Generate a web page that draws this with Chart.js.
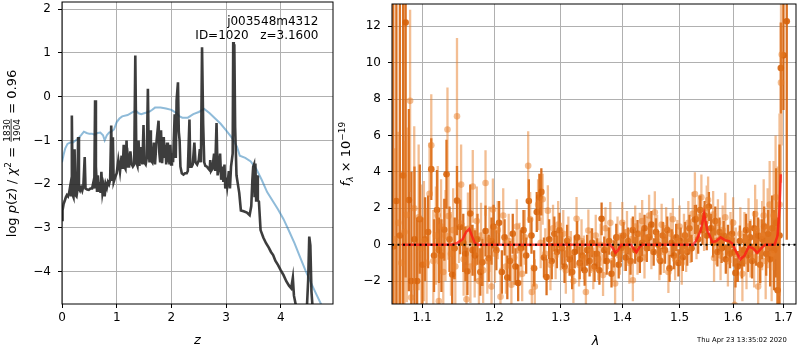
<!DOCTYPE html>
<html>
<head>
<meta charset="utf-8">
<script src="https://cdn.jsdelivr.net/npm/chart.js@4.4.1/dist/chart.umd.min.js"></script>
<style>
  html, body { margin: 0; padding: 0; background: #fff; overflow: hidden; }
  #wrap { position: relative; width: 800px; height: 350px; }
  #pz { position: absolute; left: 0; top: 0; }
  #spec { position: absolute; left: 335px; top: 0; }
</style>
</head>
<body>
<div id="wrap">
  <canvas id="pz" width="340" height="350"></canvas>
  <canvas id="spec" width="465" height="350"></canvas>
</div>
<script>
// ---- left panel: log p(z) ----
const zTicks = [0, 1, 2, 3, 4];
const logpTicks = [-4, -3, -2, -1, 0, 1, 2];

const zDark = [
  0.000,0.010,0.030,0.050,0.070,0.090,0.110,0.130,0.150,0.165,
  0.180,0.195,0.210,0.230,0.245,0.265,0.280,0.295,0.310,0.330,
  0.350,0.370,0.390,0.415,0.430,0.460,0.490,0.520,0.550,0.575,
  0.590,0.605,0.620,0.640,0.655,0.670,0.690,0.705,0.720,0.740,
  0.760,0.780,0.800,0.820,0.840,0.860,0.880,0.900,0.915,0.930,
  0.945,0.970,1.000,1.030,1.060,1.090,1.110,1.128,1.140,1.160,
  1.180,1.195,1.210,1.225,1.250,1.275,1.295,1.320,1.340,1.360,
  1.380,1.400,1.415,1.440,1.470,1.490,1.505,1.530,1.550,1.570,
  1.585,1.600,1.610,1.625,1.650,1.680,1.700,1.730,1.765,1.780,
  1.795,1.810,1.830,1.860,1.875,1.890,1.905,1.920,1.935,1.950,
  1.965,1.980,1.995,2.010,2.030,2.060,2.080,2.095,2.120,2.135,
  2.150,2.165,2.190,2.220,2.250,2.280,2.300,2.315,2.330,2.345,
  2.370,2.390,2.420,2.440,2.470,2.500,2.520,2.540,2.560,2.580,
  2.600,2.620,2.650,2.680,2.700,2.710,2.725,2.750,2.780,2.800,
  2.825,2.845,2.870,2.890,2.910,2.930,2.950,2.970,2.985,3.000,
  3.020,3.050,3.070,3.090,3.120,3.130,3.140,3.150,3.165,3.190,
  3.240,3.270,3.320,3.380,3.430,3.460,3.480,3.495,3.510,3.520,
  3.535,3.550,3.565,3.580,3.600,3.630,3.680,3.730,3.780,3.820,
  3.860,3.900,3.950,4.000,4.050,4.100,4.150,4.190,4.220,4.240,
  4.280,4.350,4.470,4.500,4.520,4.540,4.560,4.580,4.650,4.950
];
const logpDark = [
  -2.82,-2.60,-2.45,-2.38,-2.30,-2.25,-2.28,-2.20,-2.05,-2.25,
  -0.43,-2.25,-2.30,-1.20,-2.25,-2.28,-2.15,-0.92,-2.10,-2.15,
  -2.08,-2.15,-2.05,-1.38,-2.10,-2.12,-2.13,-2.10,-2.10,-1.95,
  -2.10,-0.08,-1.60,-2.15,-1.80,-2.15,-1.95,-2.20,-1.72,-2.20,
  -2.05,-2.28,-2.00,-2.08,-1.95,-2.00,-1.90,-0.66,-1.90,-0.93,
  -1.95,-1.85,-1.75,-1.45,-1.72,-1.35,-1.65,-1.10,-1.60,-1.65,
  -1.00,-1.62,-1.44,-1.62,-1.25,-1.55,-1.60,-1.55,0.94,-1.50,
  -1.58,-1.00,-1.58,-1.15,-1.55,-0.65,-1.50,-1.55,-1.40,0.18,
  -1.20,-1.50,-0.77,-1.45,-1.50,-1.05,-1.55,-1.00,-0.55,-1.30,
  -1.50,-0.77,-1.52,-0.92,-1.40,-1.10,-1.55,-1.05,-1.50,-1.20,
  -1.55,-1.10,-1.55,-1.30,-1.50,-0.40,-1.40,-0.08,0.33,-0.80,
  -1.00,-1.60,-1.75,-1.78,-1.75,-1.75,-1.70,-1.10,-0.52,-1.60,
  -1.60,-1.55,-1.05,-1.50,-1.55,-1.45,-1.20,-1.50,1.13,-0.60,
  -1.50,-1.58,-1.60,-1.65,-1.68,-1.45,-1.70,-1.65,-1.30,-1.70,
  -0.60,-1.80,-1.60,-1.30,-1.90,-1.60,-1.95,-1.55,-2.10,-1.85,
  -2.05,-1.70,-2.10,-1.60,-1.30,1.25,0.20,1.20,-0.70,-1.80,
  -2.20,-2.60,-2.62,-2.65,-2.71,-2.50,-1.90,-1.60,-1.55,-2.30,
  -1.53,-2.40,-1.80,-2.37,-2.40,-3.05,-3.22,-3.35,-3.45,-3.55,
  -3.62,-3.75,-3.85,-3.97,-4.08,-4.22,-4.32,-4.38,-4.14,-4.55,
  -4.80,-5.00,-5.00,-4.20,-3.20,-3.40,-4.45,-4.80,-5.20,-5.50
];

const zBlue = [
  0.00,0.03,0.06,0.10,0.15,0.20,0.25,0.30,0.35,0.40,0.45,0.50,0.55,0.60,0.65,0.70,0.75,
  0.78,0.82,0.86,0.90,0.95,1.00,1.05,1.10,1.20,1.30,1.35,1.40,1.45,1.50,1.55,1.60,1.65,
  1.70,1.80,1.90,2.00,2.10,2.15,2.20,2.30,2.40,2.50,2.60,2.70,2.80,2.90,3.00,3.10,3.20,
  3.25,3.35,3.45,3.55,3.65,3.75,3.85,3.95,4.05,4.15,4.25,4.35,4.45,4.55,4.65,4.75,4.85
];
const logpBlue = [
  -1.50,-1.32,-1.18,-1.08,-1.05,-1.05,-1.00,-0.95,-0.88,-0.80,-0.83,-0.85,-0.85,-0.87,-0.83,-0.82,-0.88,
  -1.00,-0.88,-0.82,-0.80,-0.75,-0.58,-0.50,-0.45,-0.42,-0.35,-0.32,-0.38,-0.40,-0.38,-0.36,-0.34,-0.30,
  -0.25,-0.25,-0.27,-0.30,-0.38,-0.45,-0.48,-0.48,-0.40,-0.35,-0.28,-0.38,-0.50,-0.62,-0.77,-0.93,-1.15,
  -1.35,-1.40,-1.48,-1.65,-1.90,-2.18,-2.38,-2.58,-2.80,-3.07,-3.35,-3.66,-3.97,-4.25,-4.52,-4.78,-5.05
];

// ---- right panel: spectrum ----
const lamTicks = [1.1, 1.2, 1.3, 1.4, 1.5, 1.6, 1.7];
const fluxTicks = [-2, 0, 2, 4, 6, 8, 10, 12];

const darkLam = [
  1.0625,1.0665,1.0710,1.0752,1.0785,1.0827,1.0860,1.0900,1.0935,1.0970,
  1.1005,1.1040,1.1080,1.1123,1.1160,1.1200,1.1226,1.1260,1.1299,1.1329,
  1.1370,1.1407,1.1440,1.1473,1.1517,1.1560,1.1590,1.1618,1.1658,1.1690,
  1.1725,1.1760,1.1800,1.1829,1.1874,1.1920,1.1960,1.1989,1.2030,1.2070,
  1.2110,1.2150,1.2190,1.2230,1.2270,1.2310,1.2350,1.2390,1.2430,1.2470,
  1.2510,1.2550,1.2590,1.2630,1.2670,1.2700,1.2740,1.2780,1.2820,1.2860,
  1.2900,1.2940,1.2980,1.3020,1.3060,1.3100,1.3140,1.3180,1.3220,1.3260,
  1.3300,1.3340,1.3380,1.3420,1.3460,1.3500,1.3540,1.3580,1.3620,1.3656,
  1.3700,1.3740,1.3780,1.3820,1.3860,1.3900,1.3940,1.3980,1.4020,1.4060,
  1.4100,1.4140,1.4180,1.4220,1.4260,1.4300,1.4340,1.4380,1.4420,1.4460,
  1.4500,1.4540,1.4580,1.4620,1.4660,1.4700,1.4740,1.4780,1.4820,1.4860,
  1.4900,1.4940,1.4980,1.5020,1.5060,1.5100,1.5140,1.5180,1.5220,1.5280,
  1.5300,1.5340,1.5380,1.5420,1.5460,1.5500,1.5540,1.5580,1.5620,1.5660,
  1.5700,1.5740,1.5780,1.5820,1.5860,1.5900,1.5940,1.5980,1.6010,1.6045,
  1.6090,1.6130,1.6170,1.6210,1.6250,1.6290,1.6330,1.6370,1.6410,1.6450,
  1.6490,1.6530,1.6570,1.6610,1.6650,1.6690,1.6730,1.6770,1.6810,1.6850,
  1.6880,1.6920,1.6946,1.7000,1.7068
];
const darkFlux = [
  -0.1,2.4,0.5,3.8,12.2,2.45,-2.0,0.3,-2.0,1.4,
  -1.1,0.3,0.7,4.15,-0.6,1.9,-0.3,-0.6,0.82,3.87,
  0.3,-1.64,-0.2,2.42,0.97,0.1,-0.5,-1.46,1.71,-0.3,
  -0.6,0.3,-1.5,-0.97,0.75,-0.75,0.2,0.99,-0.3,1.2,
  -1.5,0.4,-1.8,-0.9,0.6,-1.2,-2.1,-0.2,0.8,-0.6,
  2.4,0.5,-1.3,1.8,2.6,2.9,-0.7,-1.77,0.3,-0.9,
  0.6,-0.4,0.8,-0.2,-1.2,0.2,-0.8,-1.5,-0.4,0.4,
  -1.0,-0.6,-1.4,-0.3,-0.9,0.1,-1.2,-0.5,-1.4,1.42,
  -0.3,-0.9,0.2,-1.6,-0.5,0.4,-1.1,-0.2,0.5,-0.7,
  0.2,-0.9,0.8,-0.3,0.6,-0.8,0.1,0.9,-0.2,0.4,
  1.1,-0.4,0.7,0.0,-0.9,0.5,-0.3,0.8,-1.3,0.1,
  -0.6,0.4,-1.0,0.2,-0.7,0.5,-0.4,0.9,-0.2,1.38,
  1.4,0.3,1.9,0.8,1.6,0.5,2.1,0.9,0.1,1.3,
  -0.4,0.7,-0.2,0.5,-0.8,0.3,-0.5,0.6,-0.4,-1.55,
  -1.2,0.2,-1.0,-0.3,0.8,-0.6,0.4,-0.9,0.9,-0.2,
  0.5,-1.1,0.3,1.0,-0.5,0.6,-0.8,0.9,-0.3,1.2,
  -2.5,0.5,9.7,10.4,12.27
];
const darkErr = [
  20,20,18,14,14,5,6,4,3.5,3,
  2.6,2.3,2.0,1.7,2.0,2.2,1.8,2.0,1.7,1.9,
  1.8,1.7,1.7,1.9,1.5,1.6,1.5,1.3,1.6,1.4,
  1.4,1.4,1.3,1.3,1.4,1.3,1.3,1.2,1.1,1.2,
  1.2,1.0,1.2,1.1,1.1,1.0,1.0,1.0,1.1,1.0,
  1.2,1.0,1.0,1.1,1.3,1.3,1.1,1.0,1.1,1.0,
  0.95,0.9,0.95,0.9,0.9,0.9,0.9,0.95,0.9,0.9,
  0.9,0.85,0.85,0.85,0.85,0.8,0.85,0.85,0.8,0.9,
  0.75,0.75,0.75,0.75,0.75,0.75,0.75,0.75,0.75,0.75,
  0.75,0.75,0.75,0.75,0.75,0.75,0.75,0.75,0.75,0.75,
  0.75,0.75,0.75,0.75,0.75,0.75,0.75,0.75,0.75,0.75,
  0.75,0.75,0.75,0.75,0.75,0.75,0.75,0.75,0.75,0.8,
  0.8,0.8,0.8,0.8,0.8,0.8,0.8,0.8,0.8,0.8,
  0.8,0.8,0.8,0.8,0.8,0.8,0.8,0.8,0.8,0.8,
  0.85,0.85,0.85,0.9,0.9,0.9,0.9,0.95,0.95,0.95,
  1.0,1.0,1.1,1.1,1.2,1.3,1.5,1.8,2.2,3.0,
  4,5,2.5,3,12
];

const lightLam = [
  1.0640,1.0690,1.0730,1.0770,1.0800,1.0843,1.0857,1.0897,1.0955,1.0990,
  1.1025,1.1060,1.1100,1.1123,1.1150,1.1185,1.1210,1.1225,1.1255,1.1285,
  1.1315,1.1342,1.1355,1.1390,1.1420,1.1450,1.1473,1.1500,1.1530,1.1565,
  1.1605,1.1625,1.1660,1.1693,1.1720,1.1750,1.1780,1.1810,1.1840,1.1874,
  1.1900,1.1930,1.1960,1.1980,1.2010,1.2050,1.2090,1.2130,1.2170,1.2210,
  1.2250,1.2290,1.2330,1.2370,1.2410,1.2450,1.2500,1.2530,1.2555,1.2600,
  1.2650,1.2690,1.2720,1.2760,1.2800,1.2840,1.2880,1.2920,1.2960,1.3000,
  1.3040,1.3080,1.3120,1.3160,1.3200,1.3250,1.3290,1.3330,1.3370,1.3400,
  1.3440,1.3480,1.3520,1.3560,1.3600,1.3640,1.3680,1.3720,1.3760,1.3800,
  1.3840,1.3880,1.3920,1.3960,1.4000,1.4040,1.4080,1.4120,1.4160,1.4180,
  1.4220,1.4260,1.4300,1.4340,1.4380,1.4420,1.4460,1.4500,1.4560,1.4600,
  1.4640,1.4680,1.4720,1.4760,1.4800,1.4840,1.4880,1.4920,1.4960,1.5000,
  1.5040,1.5080,1.5120,1.5160,1.5200,1.5240,1.5280,1.5310,1.5350,1.5400,
  1.5450,1.5500,1.5525,1.5637,1.5620,1.5670,1.5710,1.5760,1.5800,1.5850,
  1.5900,1.5950,1.6000,1.6050,1.6030,1.6140,1.6180,1.6220,1.6260,1.6300,
  1.6340,1.6430,1.6410,1.6490,1.6460,1.6530,1.6570,1.6600,1.6640,1.6680,
  1.6720,1.6760,1.6800,1.6840,1.6880,1.6920,1.6950,1.6965
];
const lightFlux = [
  0.3,1.2,-1.0,0.7,1.64,7.9,-2.9,2.0,1.5,-0.2,
  0.2,-1.0,2.8,5.46,-0.9,0.5,1.62,-3.1,1.0,-1.5,
  0.5,6.33,1.58,-0.5,0.8,-1.2,7.05,1.2,3.3,-0.8,
  -3.0,0.87,-1.2,3.2,-1.0,1.3,-2.0,0.5,-1.4,3.39,
  -0.9,0.3,-2.3,1.93,-0.5,0.8,-2.86,1.6,-1.2,0.2,
  -2.2,-0.7,1.0,-0.3,-1.6,0.4,4.33,1.4,-2.6,-2.3,
  2.2,0.1,2.5,-0.5,1.87,-1.1,0.9,-0.6,1.1,-0.1,
  0.6,-1.4,0.3,-0.5,-2.0,1.42,-1.1,0.2,-0.7,-2.6,
  0.78,-0.4,-1.3,0.5,-0.8,0.0,-1.67,0.9,-0.2,1.2,
  -0.9,-2.13,0.4,-0.5,1.2,-0.3,0.7,-1.0,0.3,-1.95,
  1.0,-0.5,0.6,1.3,-0.7,0.4,1.6,-0.2,1.78,0.5,
  -0.8,1.1,-0.4,0.9,-1.5,0.6,1.4,-0.8,0.2,1.0,
  -1.0,0.5,-0.3,1.2,0.2,1.7,2.78,0.4,1.5,2.6,
  0.9,2.0,2.45,-0.73,1.65,0.2,1.2,-0.6,0.8,1.5,
  -0.9,0.4,1.2,-0.5,-3.3,0.6,-1.6,0.3,-0.9,1.0,
  -0.2,1.69,-0.7,-2.3,0.8,-0.4,0.5,1.6,-0.9,0.9,
  2.2,-0.5,1.6,2.6,0.3,2.2,8.9,10.45
];
const lightErr = [
  5,5,5,5,4.8,5,3,4.5,4,3.5,
  3.3,3.0,2.8,2.8,2.8,2.7,2.7,2.6,2.6,2.5,
  2.5,2.3,2.4,2.3,2.3,2.2,4.3,2.2,2.2,2.0,
  1.9,2.0,2.0,2.0,1.9,1.9,1.8,1.8,1.8,1.8,
  1.8,1.8,1.7,1.7,1.6,1.6,1.6,1.5,1.5,1.5,
  1.5,1.5,1.5,1.5,1.5,1.5,1.9,1.5,1.5,1.5,
  1.4,1.4,1.4,1.4,1.4,1.4,1.3,1.3,1.3,1.3,
  1.3,1.3,1.25,1.25,1.2,1.2,1.2,1.2,1.2,1.2,
  1.15,1.15,1.15,1.15,1.15,1.15,1.15,1.15,1.15,1.15,
  1.15,1.15,1.15,1.15,1.15,1.15,1.15,1.15,1.15,1.15,
  1.15,1.15,1.15,1.15,1.15,1.15,1.15,1.15,1.15,1.15,
  1.15,1.15,1.15,1.15,1.15,1.15,1.15,1.15,1.15,1.15,
  1.2,1.2,1.2,1.2,1.2,1.2,1.2,1.2,1.2,1.25,
  1.25,1.25,1.3,1.3,1.3,1.3,1.3,1.35,1.35,1.35,
  1.4,1.4,1.4,1.45,1.45,1.45,1.5,1.5,1.55,1.55,
  1.6,1.6,1.65,1.7,1.7,1.8,1.9,2.0,2.1,2.2,
  2.4,2.6,3.0,3.4,4.0,5.0,5.5,5.0
];

const modelLam = [
  1.0735,1.1400,1.1480,1.1550,1.1600,1.1645,1.1680,1.1720,1.1760,
  1.3800,1.3845,1.3886,1.3930,1.3980,
  1.4150,1.4200,1.4240,1.4290,1.4340,
  1.5250,1.5320,1.5390,1.5450,1.5510,1.5605,1.5680,1.5760,1.5840,1.5920,1.5990,1.6060,
  1.6140,1.6220,1.6306,1.6390,1.6470,1.6550,1.6630,1.6820,1.6880,1.6920,1.6946
];
const modelFlux = [
  0,0,0.1,0.3,0.7,0.87,0.5,0.1,0,
  0,-0.2,-0.45,-0.3,0,
  0,-0.25,-0.42,-0.15,0,
  0,0.3,0.8,1.69,0.8,0.14,0.2,0.4,0.25,0.2,0.05,-0.4,
  -0.8,-0.6,-0.1,-0.2,-0.45,-0.2,0,0,0.5,2.0,3.87
];

const Z_MIN = 0, Z_MAX = 4.954, LOGP_MIN = -4.74, LOGP_MAX = 2.165;
const LAM_MIN = 1.0609, LAM_MAX = 1.7259, F_MIN = -3.257, F_MAX = 13.22;
const zeroLam = [LAM_MIN, LAM_MAX], zeroFlux = [0, 0];

const FONT = '"DejaVu Sans"';
Chart.defaults.font.family = 'DejaVu Sans';
Chart.defaults.color = '#000';

const pts = (xs, ys) => xs.map((x, i) => ({ x, y: ys[i] }));
const minusFmt = v => v < 0 ? '\u2212' + Math.abs(v) : String(v);

function axis(kind, type, min, max, ticks, fmt, size) {
  return {
    type, min, max, bounds: 'data',
    afterBuildTicks: s => { s.ticks = ticks.map(v => ({ value: v })); },
    afterFit: s => {
      if (kind === 'x') s.height = size; else s.width = size;
      s.paddingTop = 0; s.paddingBottom = 0; s.paddingLeft = 0; s.paddingRight = 0;
    },
    grid: { color: '#b0b0b0', lineWidth: 1, tickColor: '#000', tickLength: 4, tickWidth: 1 },
    border: { display: false },
    ticks: {
      callback: v => fmt(v), color: '#000', font: { size: 12 },
      padding: kind === 'x' ? 3 : 7, maxRotation: 0, autoSkip: false
    }
  };
}

const boxPlugin = {
  id: 'box',
  afterDraw(chart) {
    const { ctx, chartArea: a } = chart;
    ctx.save();
    ctx.strokeStyle = '#000';
    ctx.lineWidth = 1;
    ctx.strokeRect(a.left, a.top, a.right - a.left, a.bottom - a.top);
    ctx.restore();
  }
};

const errorBars = {
  id: 'errorBars',
  beforeDatasetDraw(chart, args) {
    const ds = chart.data.datasets[args.index];
    if (!ds.errors) return;
    const { ctx, chartArea: a, scales } = chart;
    ctx.save();
    ctx.beginPath();
    ctx.rect(a.left, a.top, a.right - a.left, a.bottom - a.top);
    ctx.clip();
    ctx.strokeStyle = ds.errorColor;
    ctx.lineWidth = 2.3;
    ctx.beginPath();
    ds.data.forEach((p, i) => {
      const px = scales.x.getPixelForValue(p.x);
      ctx.moveTo(px, scales.y.getPixelForValue(p.y - ds.errors[i]));
      ctx.lineTo(px, scales.y.getPixelForValue(p.y + ds.errors[i]));
    });
    ctx.stroke();
    ctx.restore();
  }
};

// mixed-style text (italic, super/subscript, stacked fraction)
function fontOf(p) { return (p.italic ? 'italic ' : '') + (p.size || 13) + 'px ' + FONT; }
function partWidth(ctx, p) {
  ctx.font = fontOf(p);
  if (p.frac) return Math.max(ctx.measureText(p.frac[0]).width, ctx.measureText(p.frac[1]).width) + 2;
  return ctx.measureText(p.t).width;
}
function drawRich(ctx, parts, cx, baseY) {
  const total = parts.reduce((s, p) => s + partWidth(ctx, p), 0);
  let x = cx - total / 2;
  ctx.fillStyle = '#000';
  ctx.textBaseline = 'alphabetic';
  parts.forEach(p => {
    const w = partWidth(ctx, p);
    ctx.font = fontOf(p);
    if (p.frac) {
      ctx.textAlign = 'center';
      ctx.fillText(p.frac[0], x + w / 2, baseY - 6);
      ctx.fillText(p.frac[1], x + w / 2, baseY + 4.5);
      ctx.fillRect(x + 1, baseY - 4.8, w - 2, 0.8);
    } else {
      ctx.textAlign = 'left';
      ctx.fillText(p.t, x, baseY + (p.dy || 0));
    }
    x += w;
  });
}

const leftText = {
  id: 'leftText',
  afterDraw(chart) {
    const ctx = chart.ctx;
    ctx.save();
    ctx.fillStyle = '#000';
    ctx.font = '12px ' + FONT;
    ctx.textAlign = 'right';
    ctx.textBaseline = 'alphabetic';
    ctx.fillText('j003548m4312', 318.5, 25);
    ctx.fillText('ID=1020   z=3.1600', 318.5, 39);
    drawRich(ctx, [{ t: 'z', italic: true }], 197.5, 344);
    ctx.translate(15.5, 153.5);
    ctx.rotate(-Math.PI / 2);
    drawRich(ctx, [
      { t: 'log ' }, { t: 'p', italic: true }, { t: '(' }, { t: 'z', italic: true },
      { t: ') / ' }, { t: '\u03c7', italic: true }, { t: '2', size: 9, dy: -5 },
      { t: ' = ' }, { frac: ['1830', '1904'], size: 9 }, { t: ' = 0.96' }
    ], 0, 0);
    ctx.restore();
  }
};

const rightText = {
  id: 'rightText',
  afterDraw(chart) {
    const ctx = chart.ctx;
    ctx.save();
    drawRich(ctx, [{ t: '\u03bb', italic: true }], 260.5, 345);
    ctx.font = '6.8px ' + FONT;
    ctx.textAlign = 'right';
    ctx.fillText('Thu Apr 23 13:35:02 2020', 451.7, 342);
    ctx.translate(15, 154);
    ctx.rotate(-Math.PI / 2);
    drawRich(ctx, [
      { t: 'f', italic: true }, { t: '\u03bb', italic: true, size: 9, dy: 2.5 },
      { t: ' \u00d7 10' }, { t: '\u221219', size: 9, dy: -5.5 }
    ], 0, 0);
    ctx.restore();
  }
};

new Chart(document.getElementById('pz'), {
  type: 'scatter',
  data: {
    datasets: [
      { data: pts(zDark, logpDark), showLine: true, borderColor: 'rgba(40,40,40,0.9)',
        borderWidth: 2.6, pointRadius: 0, clip: 0, order: 0 },
      { data: pts(zBlue, logpBlue), showLine: true, borderColor: 'rgba(31,119,180,0.5)',
        borderWidth: 2, pointRadius: 0, clip: 0, order: 1 }
    ]
  },
  options: {
    responsive: false, animation: false, devicePixelRatio: 1,
    layout: { padding: { top: 2, right: 7, left: 0, bottom: 0 } },
    plugins: { legend: { display: false }, tooltip: { enabled: false } },
    scales: {
      x: axis('x', 'linear', Z_MIN, Z_MAX, zTicks, v => String(v), 46),
      y: axis('y', 'linear', LOGP_MIN, LOGP_MAX, logpTicks, minusFmt, 62)
    }
  },
  plugins: [boxPlugin, leftText]
});

new Chart(document.getElementById('spec'), {
  type: 'scatter',
  data: {
    datasets: [
      { data: pts(zeroLam, zeroFlux), showLine: true, borderColor: '#000', borderWidth: 2,
        borderDash: [2, 3.5], pointRadius: 0, clip: 0, order: 0 },
      { data: pts(modelLam, modelFlux), showLine: true, borderColor: 'rgba(255,20,20,0.75)',
        borderWidth: 2.5, pointRadius: 0, clip: 0, order: 1 },
      { data: pts(lightLam, lightFlux), errors: lightErr, errorColor: 'rgba(232,125,40,0.5)',
        backgroundColor: 'rgba(232,125,40,0.5)', pointRadius: 3.3, borderWidth: 0, clip: 0, order: 2 },
      { data: pts(darkLam, darkFlux), errors: darkErr, errorColor: 'rgba(214,98,10,0.9)',
        backgroundColor: 'rgba(214,98,10,0.9)', pointRadius: 3.3, borderWidth: 0, clip: 0, order: 3 }
    ]
  },
  options: {
    responsive: false, animation: false, devicePixelRatio: 1,
    layout: { padding: { top: 2, right: 1, left: 0, bottom: 0 } },
    plugins: { legend: { display: false }, tooltip: { enabled: false } },
    scales: {
      x: axis('x', 'logarithmic', LAM_MIN, LAM_MAX, lamTicks, v => Number(v).toFixed(1), 46),
      y: axis('y', 'linear', F_MIN, F_MAX, fluxTicks, minusFmt, 57)
    }
  },
  plugins: [errorBars, boxPlugin, rightText]
});
</script>
</body>
</html>
